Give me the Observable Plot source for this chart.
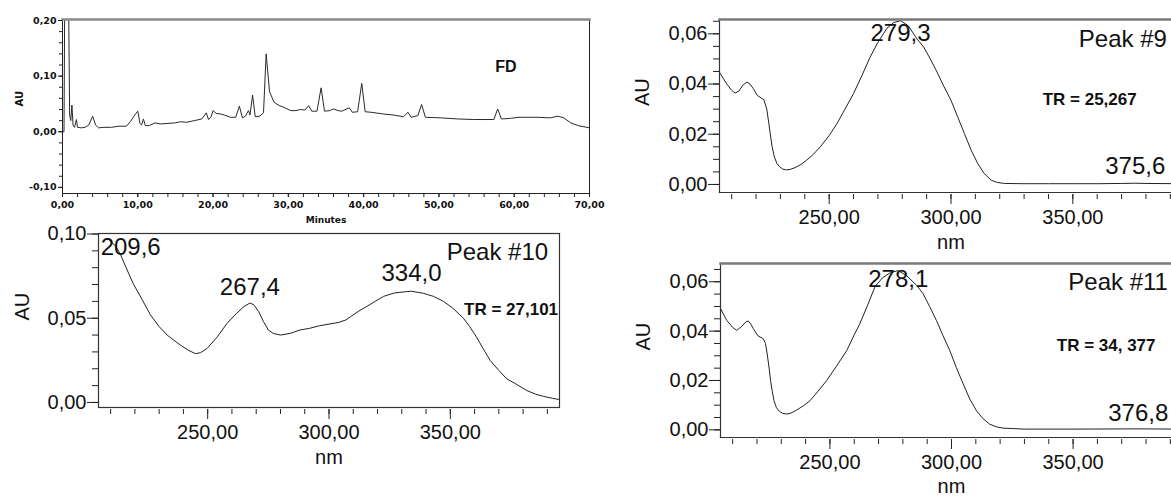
<!DOCTYPE html>
<html><head><meta charset="utf-8">
<script src="https://cdn.jsdelivr.net/npm/d3@7"></script>
<script src="https://cdn.jsdelivr.net/npm/@observablehq/plot@0.6"></script>
<style>
html,body{margin:0;padding:0;background:#fff;}
#root{position:relative;width:1171px;height:500px;overflow:hidden;background:#fff;}
.panel{position:absolute;}
.panel svg{max-width:none !important;}
</style></head><body><div id="root"></div>
<script>
// ---------- Chromatogram (FD) ----------
const chromTitle = "FD";
const chromT  = [0.0,0.2,0.3,0.8,0.95,1.1,1.25,1.4,1.6,1.85,2.0,2.5,3.0,3.5,4.0,4.4,4.8,5.5,6.5,7.5,8.5,9.0,9.6,10.0,10.3,10.5,10.75,11.0,11.5,12.3,13.0,14.0,15.0,15.7,16.5,17.5,18.5,19.1,19.4,19.7,20.0,20.4,21.0,21.5,22.3,23.0,23.5,23.9,24.3,24.7,24.9,25.25,25.6,26.2,26.7,27.05,27.5,28.1,28.8,29.4,30.3,31.0,31.6,32.2,32.7,33.1,33.8,34.35,34.8,35.5,36.0,36.6,37.1,38.1,38.5,39.2,39.75,40.2,41.0,42.6,44.0,45.3,45.9,46.3,47.2,47.7,48.2,50.2,52.5,54.6,57.3,57.8,58.3,59.5,60.5,63.0,64.8,65.8,66.6,67.5,68.5,70.0];
const chromAU = [0.0,0.0,0.25,0.25,0.03,0.02,0.048,0.012,0.008,0.022,0.008,0.007,0.008,0.012,0.028,0.012,0.007,0.008,0.008,0.010,0.010,0.018,0.030,0.037,0.015,0.012,0.023,0.011,0.011,0.016,0.014,0.015,0.016,0.018,0.017,0.020,0.023,0.034,0.022,0.026,0.038,0.033,0.032,0.030,0.026,0.026,0.046,0.025,0.028,0.038,0.030,0.066,0.027,0.028,0.034,0.140,0.072,0.053,0.047,0.044,0.038,0.038,0.040,0.039,0.047,0.037,0.037,0.079,0.037,0.038,0.041,0.038,0.037,0.043,0.035,0.036,0.087,0.036,0.035,0.032,0.030,0.027,0.035,0.026,0.029,0.049,0.026,0.025,0.023,0.022,0.022,0.041,0.023,0.024,0.026,0.026,0.025,0.028,0.025,0.016,0.011,0.007];

// ---------- Peak #10 spectrum ----------
const p10Name = "Peak #10";
const p10TR = "TR = 27,101";
const p10Peaks = ["209,6","267,4","334,0"];
const p10NM = [209.6,212,214,217,219.5,223,226.4,230,233.3,236,238.8,242,244.9,247,249.7,254,258,262,265,267.4,269,271,273,275,277,280,284,288,292,296,300,304,307,309,312,315.6,319,322.5,327,332,334,338.9,343,347.2,351,355.4,358,360.9,363.5,366.4,370,373.3,377,381.5,385,388.4,392,394.6];
const p10AU = [0.096,0.093,0.088,0.078,0.070,0.061,0.052,0.045,0.040,0.037,0.034,0.031,0.029,0.0295,0.032,0.039,0.047,0.053,0.057,0.059,0.058,0.054,0.048,0.043,0.041,0.040,0.041,0.043,0.044,0.0455,0.0465,0.0475,0.049,0.051,0.054,0.057,0.060,0.063,0.065,0.0658,0.066,0.0648,0.063,0.060,0.056,0.050,0.045,0.0386,0.032,0.025,0.019,0.014,0.011,0.0071,0.005,0.0036,0.0025,0.0018];

// ---------- Peak #9 spectrum ----------
const p9Name = "Peak #9";
const p9TR = "TR = 25,267";
const p9Peaks = ["279,3","375,6"];
const p9NM = [205,208,210,211.4,213,214.5,216.3,217.5,218.9,220.5,222,223.2,224.4,225.3,225.8,226.6,227.5,228.5,229.5,231,232.5,234,236,238.5,240.8,243.5,246.3,250,253.2,256.5,260,263.5,266.8,270,273.7,276.5,279.3,282.5,286,288.8,291.5,294.3,297,300,302.7,305.5,308.2,311,313.5,316.5,319,322,330,340,350,360,370,375.6,380,395];
const p9AU = [0.0447,0.040,0.0375,0.0364,0.0372,0.0395,0.0408,0.0400,0.0381,0.0355,0.0345,0.0338,0.0300,0.0240,0.0203,0.0150,0.0110,0.0085,0.0072,0.0061,0.0058,0.0060,0.0067,0.0080,0.0097,0.0120,0.0149,0.0195,0.0242,0.0300,0.0362,0.0435,0.0507,0.0566,0.0622,0.0645,0.0652,0.0632,0.0580,0.0547,0.0500,0.0447,0.0392,0.0335,0.0270,0.0203,0.0138,0.0083,0.0045,0.0017,0.0008,0.0004,0.0003,0.0003,0.0003,0.0003,0.0004,0.0005,0.0004,0.0003];

// ---------- Peak #11 spectrum ----------
const p11Name = "Peak #11";
const p11TR = "TR = 34, 377";
const p11Peaks = ["278,1","376,8"];
const p11NM = [204.8,207.6,210,211.7,213.7,215.5,216.4,217.5,218.5,220.3,222.6,223.5,224.2,225,225.6,226.3,227,228,229.2,230.5,232.2,234,236.3,239,241.8,245,248.6,252.5,256.9,260,262.3,265.5,268.5,271.5,275,278.1,281.5,285.6,288.3,291,293.8,296.5,299.3,302,304.8,307.5,310.3,313,315.7,318.5,321.2,330,350,376.8,395];
const p11AU = [0.0495,0.0443,0.0415,0.0403,0.0419,0.0438,0.0441,0.0428,0.0410,0.0382,0.0369,0.0350,0.0308,0.0250,0.0199,0.0155,0.0118,0.0090,0.0075,0.0067,0.0064,0.0068,0.0080,0.0097,0.0118,0.0155,0.0199,0.0255,0.0321,0.0385,0.0430,0.0505,0.0579,0.0615,0.0638,0.0645,0.0625,0.0586,0.0552,0.0500,0.0443,0.0382,0.0321,0.0252,0.0186,0.0125,0.0077,0.0045,0.0023,0.0012,0.0007,0.0003,0.0003,0.0004,0.0003];

// ---------- helpers ----------
const fmt2 = d => d.toFixed(2).replace(".", ",").replace("-0,00","0,00");
const font = "Liberation Sans, Arial, Helvetica, sans-serif";
const small = "DejaVu Sans, sans-serif";
const root = document.getElementById("root");
const zip = (xs, ys) => xs.map((x, i) => ({x, y: ys[i]}));
function interp(xs, ys, x) {
  for (let i = 1; i < xs.length; i++) if (xs[i] >= x) {
    const t = (x - xs[i-1]) / (xs[i] - xs[i-1]); return ys[i-1] + t * (ys[i] - ys[i-1]);
  }
  return ys[ys.length-1];
}
function place(svg, left, top, width) {
  const d = document.createElement("div");
  d.className = "panel";
  d.style.left = left + "px"; d.style.top = top + "px"; d.style.width = width + "px";
  d.appendChild(svg); root.appendChild(d);
}
const num = s => parseFloat(s.replace(",", ".").replace(/\s/g, ""));
function peakText(label, xs, ys, opts) {
  const x = num(label);
  return Plot.text([label], {x: () => x, y: () => interp(xs, ys, x), text: d => d,
    fontSize: 24, fontFamily: font, fill: "#111", ...opts});
}
function spectrumAxes(yMajor, yMinor) {
  return [
    Plot.axisY({ticks: yMinor, tickSize: 6, text: null, label: null, stroke: "#222"}),
    Plot.axisY({ticks: yMajor, tickSize: 11, tickPadding: 1, tickFormat: fmt2, label: null, fontSize: 20, fontFamily: font, stroke: "#222", fill: "#111"}),
    Plot.axisX({ticks: d3.range(210, 391, 10), tickSize: 5, dy: 2, text: null, label: null, stroke: "#222"}),
    Plot.axisX({ticks: [250, 300, 350], tickSize: 10, dy: 2, tickPadding: 5, tickFormat: fmt2, label: null, fontSize: 20, fontFamily: font, stroke: "#222", fill: "#111"})
  ];
}

// ---------- Panel 1: chromatogram ----------
const chrom = zip(chromT, chromAU);
place(Plot.plot({
  width: 620, height: 232, marginLeft: 62, marginRight: 31, marginTop: 19, marginBottom: 39,
  style: {background: "transparent", color: "#111", fontFamily: small},
  x: {domain: [0, 70], label: null}, y: {domain: [-0.111, 0.2018], label: null},
  marks: [
    Plot.line(chrom, {x: "x", y: "y", stroke: "#2a2a2a", strokeWidth: 1, clip: true}),
    Plot.frame({stroke: "#222", strokeWidth: 1}),
    Plot.frame({anchor: "top", stroke: "#8a8a8a", strokeWidth: 2.5}),
    Plot.axisX({ticks: d3.range(0, 70.1, 2), tickSize: 4, text: null, label: null, stroke: "#222"}),
    Plot.axisX({ticks: d3.range(0, 70.1, 10), tickSize: 4, tickPadding: 4, tickFormat: fmt2, label: null, fontSize: 9.5, fontWeight: "bold", fontFamily: small, stroke: "#222"}),
    Plot.axisY({ticks: d3.range(-0.1, 0.201, 0.02), tickSize: 3, text: null, label: null, stroke: "#222"}),
    Plot.axisY({ticks: [-0.1, 0, 0.1, 0.2], tickSize: 4, tickPadding: 2, tickFormat: fmt2, label: null, fontSize: 9.5, fontWeight: "bold", fontFamily: small, stroke: "#222"}),
    Plot.text(["Minutes"], {text: d => d, frameAnchor: "bottom", dy: 29, fontSize: 9, fontWeight: "bold", fontFamily: small}),
    Plot.text(["AU"], {text: d => d, frameAnchor: "left", dx: -43, rotate: -90, fontSize: 10, fontWeight: "bold", fontFamily: small}),
    Plot.text([chromTitle], {x: () => 58.9, y: () => 0.116, text: d => d, fontSize: 16, fontWeight: "bold", fontFamily: font})
  ]
}), 0, 0, 620);

// ---------- Panel 2: Peak #10 ----------
place(Plot.plot({
  width: 580, height: 285, marginLeft: 98, marginRight: 21, marginTop: 18, marginBottom: 93,
  style: {background: "transparent", color: "#111", fontFamily: font},
  x: {domain: [205, 395], label: null}, y: {domain: [-0.003, 0.1003], label: null},
  marks: [
    Plot.line(zip(p10NM, p10AU), {x: "x", y: "y", stroke: "#222", strokeWidth: 1, clip: true}),
    Plot.frame({stroke: "#333", strokeWidth: 1.2}),
    ...spectrumAxes([0, 0.05, 0.1], d3.range(0, 0.1001, 0.01)),
    Plot.text(["nm"], {text: d => d, frameAnchor: "bottom", dy: 56, fontSize: 20, fontFamily: font}),
    Plot.text(["AU"], {text: d => d, frameAnchor: "left", dx: -76, rotate: -90, fontSize: 20, fontFamily: font}),
    peakText(p10Peaks[0], p10NM, p10AU, {textAnchor: "start", dx: -9, dy: 7}),
    peakText(p10Peaks[1], p10NM, p10AU, {dy: -16}),
    peakText(p10Peaks[2], p10NM, p10AU, {dy: -18}),
    Plot.text([p10Name], {x: () => 390.3, y: () => 0.0889, text: d => d, textAnchor: "end", fontSize: 24, fontFamily: font}),
    Plot.text([p10TR], {x: () => 394.4, y: () => 0.0554, text: d => d, textAnchor: "end", fontSize: 17, fontWeight: "bold", fontFamily: font})
  ]
}), 0, 215, 580);

// ---------- Panel 3: Peak #9 ----------
place(Plot.plot({
  width: 580, height: 260, marginLeft: 99, marginRight: 18, marginTop: 19, marginBottom: 68,
  style: {background: "transparent", color: "#111", fontFamily: font},
  x: {domain: [205, 395], label: null}, y: {domain: [-0.0032, 0.0657], label: null},
  marks: [
    Plot.line(zip(p9NM, p9AU), {x: "x", y: "y", stroke: "#222", strokeWidth: 1, clip: true}),
    Plot.frame({anchor: "left", stroke: "#333", strokeWidth: 1.2}),
    Plot.frame({anchor: "bottom", stroke: "#333", strokeWidth: 1.2}),
    Plot.frame({anchor: "top", stroke: "#7a7a7a", strokeWidth: 2.5}),
    ...spectrumAxes([0, 0.02, 0.04, 0.06], d3.range(0, 0.0651, 0.005)),
    Plot.text(["nm"], {text: d => d, frameAnchor: "bottom", dy: 56, fontSize: 20, fontFamily: font}),
    Plot.text(["AU"], {text: d => d, frameAnchor: "left", dx: -76.5, rotate: -90, fontSize: 20, fontFamily: font}),
    peakText(p9Peaks[0], p9NM, p9AU, {dy: 13}),
    peakText(p9Peaks[1], p9NM, p9AU, {dy: -17}),
    Plot.text([p9Name], {x: () => 388.6, y: () => 0.0579, text: d => d, textAnchor: "end", fontSize: 24, fontFamily: font}),
    Plot.text([p9TR], {x: () => 356.9, y: () => 0.0337, text: d => d, fontSize: 17, fontWeight: "bold", fontFamily: font})
  ]
}), 620, 0, 580);

// ---------- Panel 4: Peak #11 ----------
place(Plot.plot({
  width: 580, height: 250, marginLeft: 100, marginRight: 18, marginTop: 13, marginBottom: 63,
  style: {background: "transparent", color: "#111", fontFamily: font},
  x: {domain: [205, 395], label: null}, y: {domain: [-0.0031, 0.0674], label: null},
  marks: [
    Plot.line(zip(p11NM, p11AU), {x: "x", y: "y", stroke: "#222", strokeWidth: 1, clip: true}),
    Plot.frame({anchor: "left", stroke: "#333", strokeWidth: 1.2}),
    Plot.frame({anchor: "bottom", stroke: "#333", strokeWidth: 1.2}),
    Plot.frame({anchor: "top", stroke: "#7a7a7a", strokeWidth: 2.5}),
    ...spectrumAxes([0, 0.02, 0.04, 0.06], d3.range(0, 0.0651, 0.005)),
    Plot.text(["nm"], {text: d => d, frameAnchor: "bottom", dy: 55, fontSize: 20, fontFamily: font}),
    Plot.text(["AU"], {text: d => d, frameAnchor: "left", dx: -77, rotate: -90, fontSize: 20, fontFamily: font}),
    peakText(p11Peaks[0], p11NM, p11AU, {dy: 9}),
    peakText(p11Peaks[1], p11NM, p11AU, {dy: -16}),
    Plot.text([p11Name], {x: () => 389.0, y: () => 0.0596, text: d => d, textAnchor: "end", fontSize: 24, fontFamily: font}),
    Plot.text([p11TR], {x: () => 363.6, y: () => 0.0342, text: d => d, fontSize: 17, fontWeight: "bold", fontFamily: font})
  ]
}), 620, 250, 580);
</script>
</body></html>
